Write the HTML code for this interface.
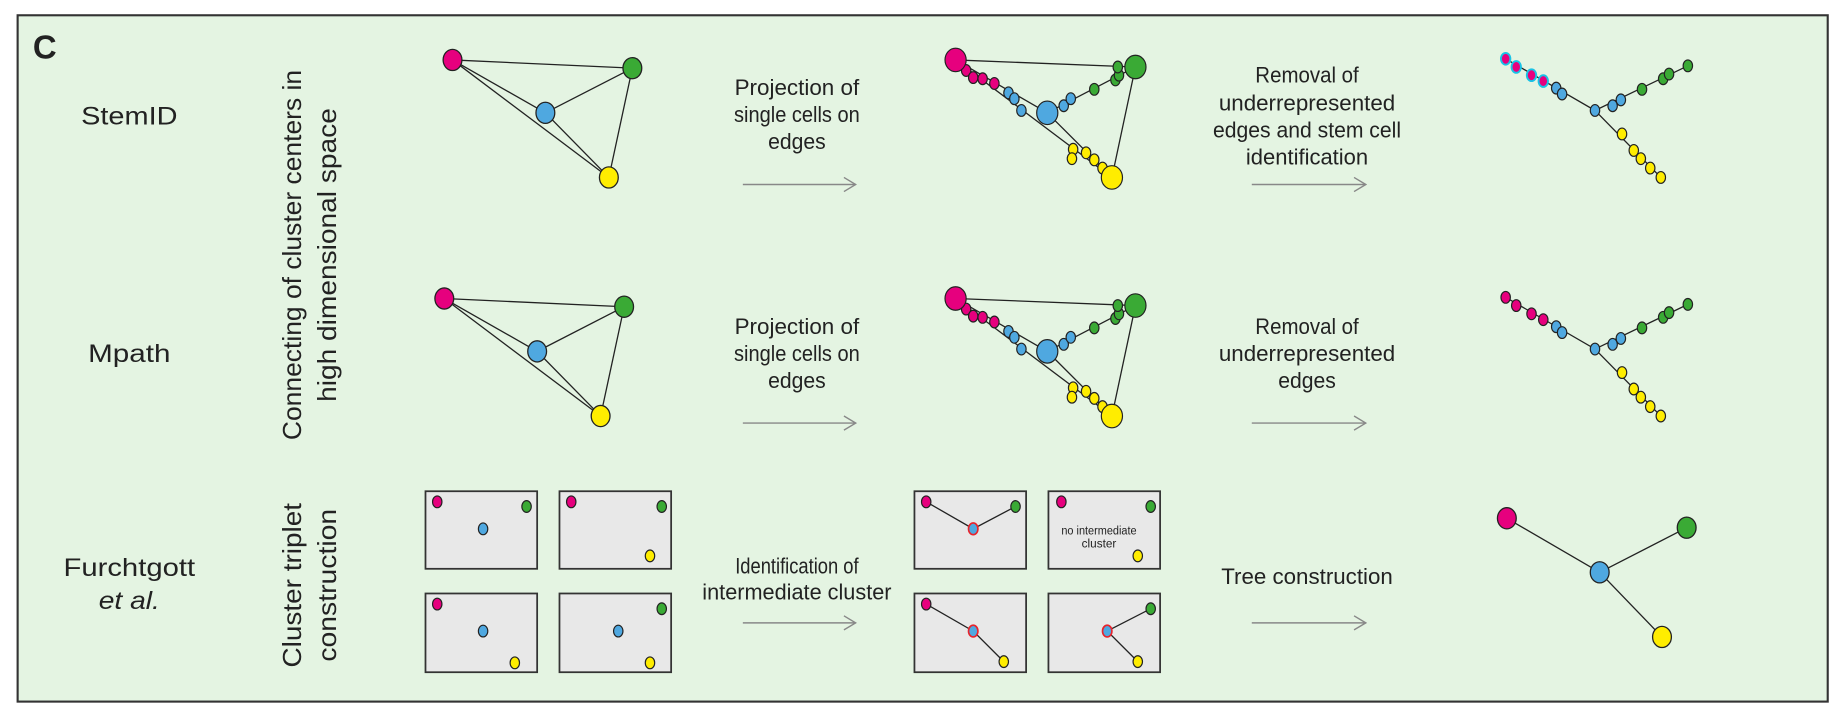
<!DOCTYPE html>
<html><head><meta charset="utf-8"><style>
html,body{margin:0;padding:0;background:#fff;}
svg{display:block;}
text{font-family:"Liberation Sans",Arial,sans-serif;fill:#222;}
</style></head><body>
<svg width="1843" height="711" viewBox="0 0 1568 605" preserveAspectRatio="none" xmlns="http://www.w3.org/2000/svg">
<defs>
<marker id="ar" markerWidth="12" markerHeight="14" refX="11" refY="7" orient="auto" markerUnits="userSpaceOnUse">
<path d="M1,1 L11,7 L1,13" fill="none" stroke="#888" stroke-width="1.2"/></marker>
</defs>
<rect x="15" y="13" width="1540" height="584" fill="#e4f4e2" stroke="#333" stroke-width="1.8"/>
<text x="28" y="50" font-size="28" font-weight="bold">C</text>

<g font-size="21" text-anchor="middle">
<text x="110" y="106" textLength="82" lengthAdjust="spacingAndGlyphs">StemID</text>
<text x="110" y="308" textLength="70" lengthAdjust="spacingAndGlyphs">Mpath</text>
<text x="110" y="490" textLength="112" lengthAdjust="spacingAndGlyphs">Furchtgott</text>
<text x="110" y="518" font-style="italic" textLength="52" lengthAdjust="spacingAndGlyphs">et al.</text>
</g>

<g font-size="22" text-anchor="middle">
<text transform="translate(256,217) rotate(-90)" textLength="315" lengthAdjust="spacingAndGlyphs">Connecting of cluster centers in</text>
<text transform="translate(286,217) rotate(-90)" textLength="250" lengthAdjust="spacingAndGlyphs">high dimensional space</text>
<text transform="translate(256,498) rotate(-90)" textLength="140" lengthAdjust="spacingAndGlyphs">Cluster triplet</text>
<text transform="translate(286,498) rotate(-90)" textLength="130" lengthAdjust="spacingAndGlyphs">construction</text>
</g>

<g font-size="18.5" text-anchor="middle">
<text x="678" y="81" textLength="106" lengthAdjust="spacingAndGlyphs">Projection of</text>
<text x="678" y="104" textLength="107" lengthAdjust="spacingAndGlyphs">single cells on</text>
<text x="678" y="127" textLength="49" lengthAdjust="spacingAndGlyphs">edges</text>
<text x="678" y="284" textLength="106" lengthAdjust="spacingAndGlyphs">Projection of</text>
<text x="678" y="307" textLength="107" lengthAdjust="spacingAndGlyphs">single cells on</text>
<text x="678" y="330" textLength="49" lengthAdjust="spacingAndGlyphs">edges</text>
<text x="678" y="488" textLength="105" lengthAdjust="spacingAndGlyphs">Identification of</text>
<text x="678" y="510" textLength="161" lengthAdjust="spacingAndGlyphs">intermediate cluster</text>
<text x="1112" y="70" textLength="88" lengthAdjust="spacingAndGlyphs">Removal of</text>
<text x="1112" y="94" textLength="150" lengthAdjust="spacingAndGlyphs">underrepresented</text>
<text x="1112" y="117" textLength="160" lengthAdjust="spacingAndGlyphs">edges and stem cell</text>
<text x="1112" y="140" textLength="104" lengthAdjust="spacingAndGlyphs">identification</text>
<text x="1112" y="284" textLength="88" lengthAdjust="spacingAndGlyphs">Removal of</text>
<text x="1112" y="307" textLength="150" lengthAdjust="spacingAndGlyphs">underrepresented</text>
<text x="1112" y="330" textLength="49" lengthAdjust="spacingAndGlyphs">edges</text>
<text x="1112" y="497" textLength="146" lengthAdjust="spacingAndGlyphs">Tree construction</text>
</g>

<g stroke="#888" stroke-width="1.2" marker-end="url(#ar)">
<line x1="632" y1="157" x2="728" y2="157"/><line x1="632" y1="360" x2="728" y2="360"/><line x1="632" y1="530" x2="728" y2="530"/>
<line x1="1065" y1="157" x2="1162" y2="157"/><line x1="1065" y1="360" x2="1162" y2="360"/><line x1="1065" y1="530" x2="1162" y2="530"/>
</g>

<!-- Triangles -->
<g>
<g stroke="#222" stroke-width="1.1">
<line x1="385" y1="51" x2="538" y2="58"/><line x1="385" y1="51" x2="464" y2="96"/><line x1="385" y1="51" x2="518" y2="151"/>
<line x1="464" y1="96" x2="538" y2="58"/><line x1="464" y1="96" x2="518" y2="151"/><line x1="538" y1="58" x2="518" y2="151"/>
</g>
<g stroke="#222" stroke-width="1.1">
<ellipse cx="385" cy="51" rx="8" ry="9" fill="#e6007e"/><ellipse cx="538" cy="58" rx="8" ry="9" fill="#3aaa35"/>
<ellipse cx="464" cy="96" rx="8" ry="9" fill="#4fa8e0"/><ellipse cx="518" cy="151" rx="8" ry="9" fill="#ffed00"/>
</g></g>
<g transform="translate(-7,203)">
<g stroke="#222" stroke-width="1.1">
<line x1="385" y1="51" x2="538" y2="58"/><line x1="385" y1="51" x2="464" y2="96"/><line x1="385" y1="51" x2="518" y2="151"/>
<line x1="464" y1="96" x2="538" y2="58"/><line x1="464" y1="96" x2="518" y2="151"/><line x1="538" y1="58" x2="518" y2="151"/>
</g>
<g stroke="#222" stroke-width="1.1">
<ellipse cx="385" cy="51" rx="8" ry="9" fill="#e6007e"/><ellipse cx="538" cy="58" rx="8" ry="9" fill="#3aaa35"/>
<ellipse cx="464" cy="96" rx="8" ry="9" fill="#4fa8e0"/><ellipse cx="518" cy="151" rx="8" ry="9" fill="#ffed00"/>
</g></g>

<!-- Projected graphs -->
<g>
<g stroke="#222" stroke-width="1.1">
<line x1="813" y1="51" x2="966" y2="57"/><line x1="813" y1="51" x2="891" y2="96"/><line x1="813" y1="51" x2="946" y2="151"/>
<line x1="891" y1="96" x2="966" y2="57"/><line x1="891" y1="96" x2="946" y2="151"/><line x1="966" y1="57" x2="946" y2="151"/>
</g>
<g stroke="#222" stroke-width="1">
<ellipse cx="822" cy="60" rx="4" ry="5" fill="#e6007e"/><ellipse cx="828" cy="66" rx="4" ry="5" fill="#e6007e"/>
<ellipse cx="836" cy="67" rx="4" ry="5" fill="#e6007e"/><ellipse cx="846" cy="71" rx="4" ry="5" fill="#e6007e"/>
<ellipse cx="858" cy="79" rx="4" ry="5" fill="#4fa8e0"/><ellipse cx="863" cy="84" rx="4" ry="5" fill="#4fa8e0"/>
<ellipse cx="869" cy="94" rx="4" ry="5" fill="#4fa8e0"/><ellipse cx="905" cy="90" rx="4" ry="5" fill="#4fa8e0"/>
<ellipse cx="911" cy="84" rx="4" ry="5" fill="#4fa8e0"/>
<ellipse cx="931" cy="76" rx="4" ry="5" fill="#3aaa35"/><ellipse cx="949" cy="68" rx="4" ry="5" fill="#3aaa35"/>
<ellipse cx="952" cy="64" rx="4" ry="5" fill="#3aaa35"/><ellipse cx="951" cy="57" rx="4" ry="5" fill="#3aaa35"/>
<ellipse cx="913" cy="127" rx="4" ry="5" fill="#ffed00"/><ellipse cx="912" cy="135" rx="4" ry="5" fill="#ffed00"/>
<ellipse cx="924" cy="130" rx="4" ry="5" fill="#ffed00"/><ellipse cx="931" cy="136" rx="4" ry="5" fill="#ffed00"/>
<ellipse cx="938" cy="143" rx="4" ry="5" fill="#ffed00"/>
<ellipse cx="813" cy="51" rx="9" ry="10" fill="#e6007e"/><ellipse cx="966" cy="57" rx="9" ry="10" fill="#3aaa35"/>
<ellipse cx="891" cy="96" rx="9" ry="10" fill="#4fa8e0"/><ellipse cx="946" cy="151" rx="9" ry="10" fill="#ffed00"/>
</g></g>
<g transform="translate(0,203)">
<g stroke="#222" stroke-width="1.1">
<line x1="813" y1="51" x2="966" y2="57"/><line x1="813" y1="51" x2="891" y2="96"/><line x1="813" y1="51" x2="946" y2="151"/>
<line x1="891" y1="96" x2="966" y2="57"/><line x1="891" y1="96" x2="946" y2="151"/><line x1="966" y1="57" x2="946" y2="151"/>
</g>
<g stroke="#222" stroke-width="1">
<ellipse cx="822" cy="60" rx="4" ry="5" fill="#e6007e"/><ellipse cx="828" cy="66" rx="4" ry="5" fill="#e6007e"/>
<ellipse cx="836" cy="67" rx="4" ry="5" fill="#e6007e"/><ellipse cx="846" cy="71" rx="4" ry="5" fill="#e6007e"/>
<ellipse cx="858" cy="79" rx="4" ry="5" fill="#4fa8e0"/><ellipse cx="863" cy="84" rx="4" ry="5" fill="#4fa8e0"/>
<ellipse cx="869" cy="94" rx="4" ry="5" fill="#4fa8e0"/><ellipse cx="905" cy="90" rx="4" ry="5" fill="#4fa8e0"/>
<ellipse cx="911" cy="84" rx="4" ry="5" fill="#4fa8e0"/>
<ellipse cx="931" cy="76" rx="4" ry="5" fill="#3aaa35"/><ellipse cx="949" cy="68" rx="4" ry="5" fill="#3aaa35"/>
<ellipse cx="952" cy="64" rx="4" ry="5" fill="#3aaa35"/><ellipse cx="951" cy="57" rx="4" ry="5" fill="#3aaa35"/>
<ellipse cx="913" cy="127" rx="4" ry="5" fill="#ffed00"/><ellipse cx="912" cy="135" rx="4" ry="5" fill="#ffed00"/>
<ellipse cx="924" cy="130" rx="4" ry="5" fill="#ffed00"/><ellipse cx="931" cy="136" rx="4" ry="5" fill="#ffed00"/>
<ellipse cx="938" cy="143" rx="4" ry="5" fill="#ffed00"/>
<ellipse cx="813" cy="51" rx="9" ry="10" fill="#e6007e"/><ellipse cx="966" cy="57" rx="9" ry="10" fill="#3aaa35"/>
<ellipse cx="891" cy="96" rx="9" ry="10" fill="#4fa8e0"/><ellipse cx="946" cy="151" rx="9" ry="10" fill="#ffed00"/>
</g></g>

<!-- Trees rows 1-2 -->
<g>
<polyline points="1281,50 1357,94 1436,56" fill="none" stroke="#222" stroke-width="1.1"/>
<line x1="1357" y1="94" x2="1413" y2="151" stroke="#222" stroke-width="1.1"/>
<g stroke="#19c3e6" stroke-width="1.6">
<ellipse cx="1281" cy="50" rx="4" ry="5" fill="#e6007e"/><ellipse cx="1290" cy="57" rx="4" ry="5" fill="#e6007e"/>
<ellipse cx="1303" cy="64" rx="4" ry="5" fill="#e6007e"/><ellipse cx="1313" cy="69" rx="4" ry="5" fill="#e6007e"/>
</g>
<g stroke="#222" stroke-width="1">
<ellipse cx="1324" cy="75" rx="4" ry="5" fill="#4fa8e0"/><ellipse cx="1329" cy="80" rx="4" ry="5" fill="#4fa8e0"/>
<ellipse cx="1357" cy="94" rx="4" ry="5" fill="#4fa8e0"/><ellipse cx="1372" cy="90" rx="4" ry="5" fill="#4fa8e0"/>
<ellipse cx="1379" cy="85" rx="4" ry="5" fill="#4fa8e0"/>
<ellipse cx="1397" cy="76" rx="4" ry="5" fill="#3aaa35"/><ellipse cx="1415" cy="67" rx="4" ry="5" fill="#3aaa35"/>
<ellipse cx="1420" cy="63" rx="4" ry="5" fill="#3aaa35"/><ellipse cx="1436" cy="56" rx="4" ry="5" fill="#3aaa35"/>
<ellipse cx="1380" cy="114" rx="4" ry="5" fill="#ffed00"/><ellipse cx="1390" cy="128" rx="4" ry="5" fill="#ffed00"/>
<ellipse cx="1396" cy="135" rx="4" ry="5" fill="#ffed00"/><ellipse cx="1404" cy="143" rx="4" ry="5" fill="#ffed00"/>
<ellipse cx="1413" cy="151" rx="4" ry="5" fill="#ffed00"/>
</g></g>
<g transform="translate(0,203)">
<polyline points="1281,50 1357,94 1436,56" fill="none" stroke="#222" stroke-width="1.1"/>
<line x1="1357" y1="94" x2="1413" y2="151" stroke="#222" stroke-width="1.1"/>
<g stroke="#222" stroke-width="1">
<ellipse cx="1281" cy="50" rx="4" ry="5" fill="#e6007e"/><ellipse cx="1290" cy="57" rx="4" ry="5" fill="#e6007e"/>
<ellipse cx="1303" cy="64" rx="4" ry="5" fill="#e6007e"/><ellipse cx="1313" cy="69" rx="4" ry="5" fill="#e6007e"/>
<ellipse cx="1324" cy="75" rx="4" ry="5" fill="#4fa8e0"/><ellipse cx="1329" cy="80" rx="4" ry="5" fill="#4fa8e0"/>
<ellipse cx="1357" cy="94" rx="4" ry="5" fill="#4fa8e0"/><ellipse cx="1372" cy="90" rx="4" ry="5" fill="#4fa8e0"/>
<ellipse cx="1379" cy="85" rx="4" ry="5" fill="#4fa8e0"/>
<ellipse cx="1397" cy="76" rx="4" ry="5" fill="#3aaa35"/><ellipse cx="1415" cy="67" rx="4" ry="5" fill="#3aaa35"/>
<ellipse cx="1420" cy="63" rx="4" ry="5" fill="#3aaa35"/><ellipse cx="1436" cy="56" rx="4" ry="5" fill="#3aaa35"/>
<ellipse cx="1380" cy="114" rx="4" ry="5" fill="#ffed00"/><ellipse cx="1390" cy="128" rx="4" ry="5" fill="#ffed00"/>
<ellipse cx="1396" cy="135" rx="4" ry="5" fill="#ffed00"/><ellipse cx="1404" cy="143" rx="4" ry="5" fill="#ffed00"/>
<ellipse cx="1413" cy="151" rx="4" ry="5" fill="#ffed00"/>
</g></g>

<!-- Boxes -->
<g fill="#e8e8e8" stroke="#333" stroke-width="1.5">
<rect x="362" y="418" width="95" height="66"/><rect x="476" y="418" width="95" height="66"/>
<rect x="362" y="505" width="95" height="67"/><rect x="476" y="505" width="95" height="67"/>
<rect x="778" y="418" width="95" height="66"/><rect x="892" y="418" width="95" height="66"/>
<rect x="778" y="505" width="95" height="67"/><rect x="892" y="505" width="95" height="67"/>
</g>
<g stroke="#222" stroke-width="1.1">
<polyline points="788,427 828,450 864,431" fill="none"/>
<polyline points="788,514 828,537 854,563" fill="none"/>
<polyline points="979,518 942,537 968,563" fill="none"/>
</g>
<g stroke="#222" stroke-width="1">
<ellipse cx="372" cy="427" rx="4" ry="5" fill="#e6007e"/><ellipse cx="411" cy="450" rx="4" ry="5" fill="#4fa8e0"/><ellipse cx="448" cy="431" rx="4" ry="5" fill="#3aaa35"/>
<ellipse cx="486" cy="427" rx="4" ry="5" fill="#e6007e"/><ellipse cx="563" cy="431" rx="4" ry="5" fill="#3aaa35"/><ellipse cx="553" cy="473" rx="4" ry="5" fill="#ffed00"/>
<ellipse cx="372" cy="514" rx="4" ry="5" fill="#e6007e"/><ellipse cx="411" cy="537" rx="4" ry="5" fill="#4fa8e0"/><ellipse cx="438" cy="564" rx="4" ry="5" fill="#ffed00"/>
<ellipse cx="563" cy="518" rx="4" ry="5" fill="#3aaa35"/><ellipse cx="526" cy="537" rx="4" ry="5" fill="#4fa8e0"/><ellipse cx="553" cy="564" rx="4" ry="5" fill="#ffed00"/>
<ellipse cx="788" cy="427" rx="4" ry="5" fill="#e6007e"/><ellipse cx="864" cy="431" rx="4" ry="5" fill="#3aaa35"/>
<ellipse cx="903" cy="427" rx="4" ry="5" fill="#e6007e"/><ellipse cx="979" cy="431" rx="4" ry="5" fill="#3aaa35"/><ellipse cx="968" cy="473" rx="4" ry="5" fill="#ffed00"/>
<ellipse cx="788" cy="514" rx="4" ry="5" fill="#e6007e"/><ellipse cx="854" cy="563" rx="4" ry="5" fill="#ffed00"/>
<ellipse cx="979" cy="518" rx="4" ry="5" fill="#3aaa35"/><ellipse cx="968" cy="563" rx="4" ry="5" fill="#ffed00"/>
</g>
<g stroke="#e8242c" stroke-width="1.4" fill="#4fa8e0">
<ellipse cx="828" cy="450" rx="4" ry="5"/><ellipse cx="828" cy="537" rx="4" ry="5"/><ellipse cx="942" cy="537" rx="4" ry="5"/>
</g>
<g font-size="10" text-anchor="middle">
<text x="935" y="455" textLength="64" lengthAdjust="spacingAndGlyphs">no intermediate</text>
<text x="935" y="466">cluster</text>
</g>

<!-- Final tree -->
<g stroke="#222" stroke-width="1.1">
<line x1="1282" y1="441" x2="1361" y2="487"/><line x1="1361" y1="487" x2="1435" y2="449"/><line x1="1361" y1="487" x2="1414" y2="542"/>
<ellipse cx="1282" cy="441" rx="8" ry="9" fill="#e6007e"/><ellipse cx="1435" cy="449" rx="8" ry="9" fill="#3aaa35"/>
<ellipse cx="1361" cy="487" rx="8" ry="9" fill="#4fa8e0"/><ellipse cx="1414" cy="542" rx="8" ry="9" fill="#ffed00"/>
</g>
</svg>
</body></html>
